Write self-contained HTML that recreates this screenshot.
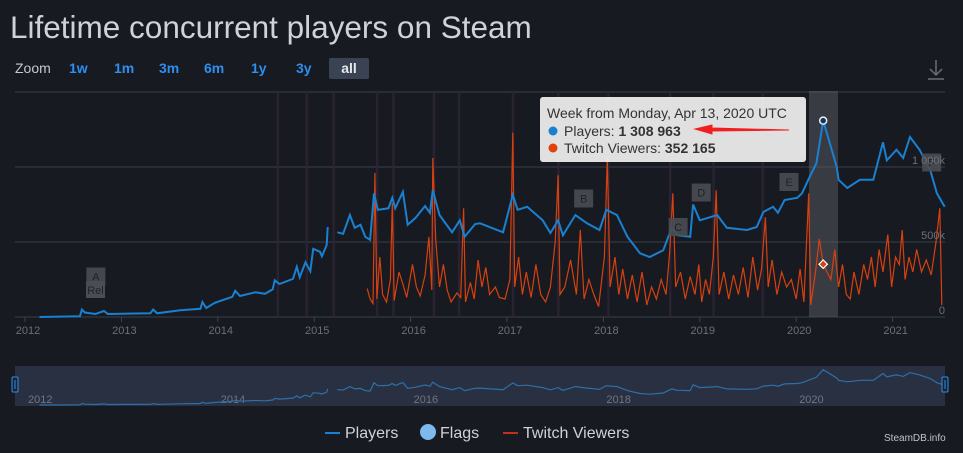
<!DOCTYPE html>
<html><head><meta charset="utf-8">
<style>
body{margin:0;background:#171a21;width:963px;height:453px;overflow:hidden;font-family:"Liberation Sans",sans-serif;}
svg{position:absolute;left:0;top:0}
</style></head>
<body>
<svg id="c" width="963" height="453">
<text x="10" y="38" font-size="31.5" fill="#cfd2d6">Lifetime concurrent players on Steam</text>
<text x="15" y="73" font-size="14" fill="#c6c9cc">Zoom</text>
<g font-size="14" font-weight="bold" fill="#2d8ff0">
<text x="69" y="73">1w</text>
<text x="114" y="73">1m</text>
<text x="159" y="73">3m</text>
<text x="204" y="73">6m</text>
<text x="251" y="73">1y</text>
<text x="296" y="73">3y</text>
</g>
<rect x="329" y="58" width="40" height="21" rx="2" fill="#3a4354"/>
<text x="349" y="73" font-size="14" font-weight="bold" fill="#e6e8ea" text-anchor="middle">all</text>
<g stroke="#6a6f78" stroke-width="1.5" fill="none">
<path d="M936 60 V75 M930 69 L936 75 L942 69 M928 79 H944"/></g>
<g id="grid"></g>
<g id="bands"></g>
<rect x="809" y="91" width="29" height="226" fill="#5a5d63" opacity="0.5"/>
<g id="series"></g>
<g id="flags"></g>
<g id="axis"></g>
<g id="nav"></g>
<g>
<rect x="540" y="97" width="266" height="65" rx="3" fill="#f0f0f0" opacity="0.93"/>
<text x="547" y="118" font-size="14" fill="#333">Week from Monday, Apr 13, 2020 UTC</text>
<circle cx="553" cy="131" r="4.5" fill="#1a80d0"/>
<text x="564" y="136" font-size="14" fill="#333">Players: <tspan font-weight="bold">1 308 963</tspan></text>
<circle cx="553" cy="148" r="4.5" fill="#e0400a"/>
<text x="564" y="153" font-size="14" fill="#333">Twitch Viewers: <tspan font-weight="bold">352 165</tspan></text>
</g>
<g>
<path d="M789 130 L712 128 L712 125 L695 129 L712 134 L712 131 Z" fill="#f02020" stroke="#f02020" stroke-width="1"/>
</g>
<g font-size="16" fill="#cfd2d6">
<line x1="325" y1="433" x2="340" y2="433" stroke="#1a80d0" stroke-width="2"/>
<text x="345" y="438">Players</text>
<circle cx="428" cy="432" r="8" fill="#7fb8ee"/>
<text x="440" y="438">Flags</text>
<line x1="503" y1="433" x2="518" y2="433" stroke="#c0301a" stroke-width="2"/>
<text x="523" y="438">Twitch Viewers</text>
</g>
<text x="884" y="441" font-size="10" fill="#c0c3c6">SteamDB.info</text>
</svg>
<script>
const playerYears=[2012.15,2012.57,2012.59,2012.62,2012.73,2012.82,2012.86,2013.30,2013.33,2013.37,2013.61,2013.82,2013.84,2013.88,2013.97,2014.15,2014.18,2014.23,2014.39,2014.49,2014.57,2014.59,2014.64,2014.78,2014.82,2014.85,2014.91,2014.96,2014.99,2015.06,2015.08,2015.13,2015.14,null,2015.24,2015.30,2015.37,2015.42,2015.48,2015.53,2015.58,2015.62,2015.66,2015.77,2015.81,2015.84,2015.92,2015.97,2016.05,2016.15,2016.20,2016.23,2016.30,2016.43,2016.51,2016.56,2016.67,2016.72,2016.96,2017.06,2017.11,2017.21,2017.37,2017.45,2017.53,2017.58,2017.71,2017.83,2017.96,2018.03,2018.14,2018.25,2018.38,2018.48,2018.62,2018.71,2018.77,2018.90,2018.93,2019.00,2019.18,2019.28,2019.49,2019.59,2019.66,2019.76,2019.81,2019.88,2020.01,2020.06,2020.14,2020.21,2020.28,2020.33,2020.42,2020.44,2020.53,2020.66,2020.80,2020.90,2020.94,2021.04,2021.11,2021.18,2021.28,2021.39,2021.46,2021.54];
const playerValues=[0,5,50,30,20,40,20,25,50,25,45,55,100,60,95,135,175,140,165,155,185,245,220,255,335,265,365,305,455,435,405,480,600,null,565,555,680,595,615,535,515,825,715,725,795,725,835,615,660,740,695,845,680,565,645,535,620,625,565,815,715,735,645,560,645,545,680,625,580,715,680,535,425,400,445,595,545,535,750,645,680,595,580,600,700,735,695,780,795,825,935,1025,1309,1200,1000,915,860,915,915,1165,1045,1115,1060,1200,1115,980,825,735];
const twitchYears=[2015.55,2015.58,2015.61,2015.63,2015.65,2015.68,2015.71,2015.75,2015.79,2015.81,2015.83,2015.88,2015.92,2015.96,2016.02,2016.06,2016.10,2016.15,2016.19,2016.22,2016.23,2016.26,2016.30,2016.34,2016.38,2016.42,2016.48,2016.52,2016.55,2016.57,2016.62,2016.66,2016.70,2016.74,2016.78,2016.82,2016.88,2016.92,2016.98,2017.03,2017.06,2017.08,2017.12,2017.16,2017.20,2017.25,2017.30,2017.35,2017.40,2017.45,2017.50,2017.53,2017.55,2017.60,2017.66,2017.72,2017.76,2017.80,2017.85,2017.90,2017.95,2018.01,2018.04,2018.07,2018.12,2018.16,2018.20,2018.25,2018.30,2018.35,2018.40,2018.45,2018.50,2018.55,2018.60,2018.65,2018.69,2018.72,2018.75,2018.80,2018.85,2018.90,2018.95,2018.99,2019.02,2019.06,2019.10,2019.14,2019.17,2019.20,2019.25,2019.30,2019.35,2019.40,2019.45,2019.50,2019.55,2019.60,2019.64,2019.68,2019.71,2019.75,2019.80,2019.85,2019.90,2019.95,2020.00,2020.04,2020.08,2020.13,2020.15,2020.20,2020.24,2020.28,2020.32,2020.36,2020.40,2020.44,2020.48,2020.52,2020.56,2020.60,2020.65,2020.70,2020.74,2020.78,2020.82,2020.86,2020.90,2020.95,2020.99,2021.03,2021.07,2021.10,2021.13,2021.17,2021.21,2021.25,2021.30,2021.35,2021.40,2021.45,2021.49,2021.51];
const twitchValues=[190,120,90,960,120,400,150,100,250,760,110,300,220,130,350,200,140,280,535,180,1060,520,200,350,180,100,160,130,725,100,230,120,380,200,330,150,200,130,120,250,1230,200,400,150,300,130,350,150,100,200,500,945,150,200,380,150,580,120,250,150,70,400,1065,200,400,150,320,120,280,100,300,80,200,120,250,150,450,825,200,300,120,270,150,350,100,250,150,400,845,150,300,120,280,150,330,130,400,180,320,665,200,380,150,300,200,250,120,320,100,825,80,300,520,352,300,250,450,200,350,150,120,300,150,350,250,400,200,450,300,550,200,400,350,580,250,400,300,450,300,380,280,500,725,80];
const yearTicks=[2012,2013,2014,2015,2016,2017,2018,2019,2020,2021];
const valueTicks=[0,500,1000,1500];
const valueTickLabels=["0","500k","1 000k",""];
const eventYears=[2014.62,2014.92,2015.20,2015.65,2015.82,2016.24,2016.50,2017.06,2017.53,2018.05,2018.69,2019.14,2019.65];
const flagLabels=["A","B","C","D","E","F"];
const flagYears=[2012.73,2017.79,2018.77,2019.01,2019.92,2021.40];
const flagValues=[270,790,600,830,900,1030];

const NS="http://www.w3.org/2000/svg";
const xS=y=>25+(y-2012)*96.4;
const yS=v=>317-v*0.15;
const nyS=v=>405-v*0.027;
function mk(tag,attrs,parent){const e=document.createElementNS(NS,tag);for(const k in attrs)e.setAttribute(k,attrs[k]);parent.appendChild(e);return e;}
const grid=document.getElementById('grid'),axis=document.getElementById('axis'),bands=document.getElementById('bands'),series=document.getElementById('series'),flags=document.getElementById('flags'),nav=document.getElementById('nav');
valueTicks.forEach((v,i)=>{
 const l=mk('line',{x1:15,x2:945,y1:yS(v),y2:yS(v),stroke:'#3a3e46','stroke-width':1},grid);
 
 
 if(valueTickLabels[i]){const t=mk('text',{x:945,y:yS(v)-3,'font-size':11,fill:'#6b7078','text-anchor':'end'},axis);t.textContent=valueTickLabels[i];
 
 }
});
eventYears.forEach(y=>{
 const r=mk('rect',{x:xS(y)-1,y:91,width:2.5,height:226,fill:'#2e2436',opacity:0.8},bands);
 
 
});
yearTicks.forEach(y=>{
 const l=mk('line',{x1:xS(y),x2:xS(y),y1:317,y2:322,stroke:'#3d424b'},axis);
 
 
 const t=mk('text',{x:xS(y)+3,y:334,'font-size':11,fill:'#6b7078','text-anchor':'middle'},axis);t.textContent=y;
 
 
});
function pathFrom(xs,vs,fy){let d='',pen=false;for(let i=0;i<xs.length;i++){if(xs[i]===null){pen=false;continue;}d+=(pen?'L':'M')+xS(xs[i]).toFixed(1)+' '+fy(vs[i]).toFixed(1);pen=true;}return d;}
const tw=mk('path',{d:pathFrom(twitchYears,twitchValues,yS),fill:'none',stroke:'#d8410f','stroke-width':1.2},series);


const pl=mk('path',{d:pathFrom(playerYears,playerValues,yS),fill:'none',stroke:'#1a80d0','stroke-width':2},series);


const hp=mk('circle',{cx:xS(2020.28),cy:yS(1309),r:3.5,fill:'#1a3550',stroke:'#e0f0ff','stroke-width':1.5},series);


const ht=mk('rect',{x:xS(2020.28)-3,y:yS(352)-3,width:6,height:6,fill:'#d8410f',stroke:'#fff','stroke-width':1.2,transform:`rotate(45 ${xS(2020.28)} ${yS(352)})`},series);


flagLabels.forEach((f,i)=>{
 const g=mk('g',{},flags);
 
 
 const x=xS(flagYears[i]),y=yS(flagValues[i]);
 mk('rect',{x:x-9,y:y-9,width:19,height:18,fill:'#4a4d53',opacity:0.9},g);
 const t=mk('text',{x:x+0.5,y:y+4,'font-size':11,fill:'#222','text-anchor':'middle'},g);t.textContent=f;
});
const rel=mk('g',{},flags);


mk('rect',{x:86,y:281,width:19,height:17,fill:'#4a4d53'},rel);
const rt=mk('text',{x:95.5,y:294,'font-size':11,fill:'#222','text-anchor':'middle'},rel);rt.textContent='Rel';
const nb=mk('rect',{x:15,y:366,width:930,height:40,fill:'#283042'},nav);


[2012,2014,2016,2018,2020].forEach(y=>{const t=mk('text',{x:xS(y)+3,y:403,'font-size':11,fill:'#70757e'},nav);t.textContent=y;
 
 });
const np=mk('path',{d:pathFrom(playerYears,playerValues,nyS),fill:'none',stroke:'#2f6fa8','stroke-width':1.2},nav);


[15,945].forEach((x,i)=>{const h=mk('rect',{x:x-3,y:377,width:6,height:15,rx:1,fill:'#1b2230',stroke:'#2d8ff0','stroke-width':1},nav);
 
 
 mk('line',{x1:x,x2:x,y1:380,y2:389,stroke:'#2d8ff0'},nav);});
</script>
</body></html>
